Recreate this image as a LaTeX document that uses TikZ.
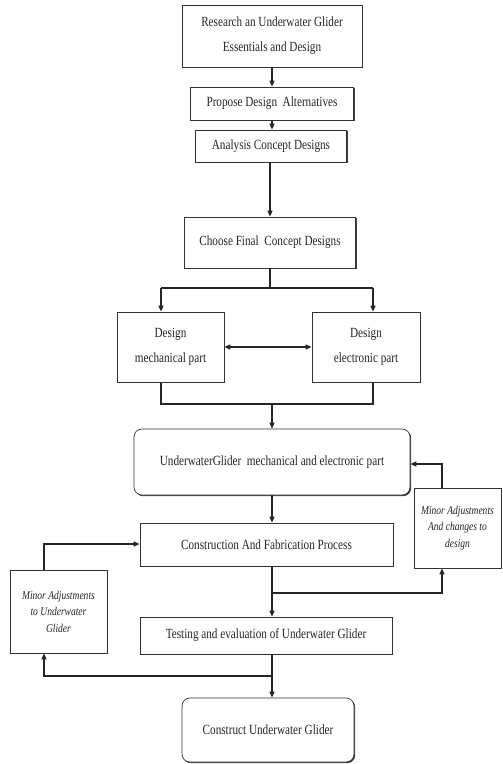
\documentclass[tikz,border=0pt]{standalone}
\usepackage{fontspec}
\setmainfont[FakeStretch=0.8]{Liberation Serif}
\usetikzlibrary{arrows.meta,shadows}
\begin{document}
\begin{tikzpicture}[x=1pt,y=-1pt,
  box/.style={draw=black!80,line width=0.7pt,fill=white,align=center,inner sep=0pt,
    font=\fontsize{14}{25}\selectfont,text=black!85,
    drop shadow={shadow xshift=1.2pt,shadow yshift=-1.2pt,fill=black!75,opacity=1}},
  rbox/.style={box,rounded corners=8pt},
  ibox/.style={box,font=\fontsize{11.9}{16.5}\selectfont\itshape},
  conn/.style={line width=1.3pt,draw=black!85},
  arr/.style={conn,-{Triangle[length=6pt,width=5pt]}},
  darr/.style={conn,{Triangle[length=6pt,width=5pt]}-{Triangle[length=6pt,width=5pt]}}]
\useasboundingbox (0,0) rectangle (503,764);
\node[box,minimum width=180,minimum height=62] (b1) at (272,36) {Research an Underwater Glider\\Essentials and Design};
\node[box,minimum width=163,minimum height=33] (b2) at (272,103.5) {Propose Design\ \ Alternatives};
\node[box,minimum width=151,minimum height=32] (b3) at (271,146) {Analysis Concept Designs};
\node[box,minimum width=171,minimum height=51] (b4) at (270,242.5) {Choose Final\ \ Concept Designs};
\node[box,minimum width=107,minimum height=70] (mech) at (170.5,347) {Design\\mechanical part};
\node[box,minimum width=108,minimum height=70] (elec) at (366,347) {Design\\electronic part};
\node[rbox,minimum width=276,minimum height=66] (ug) at (272,462) {UnderwaterGlider\ \ mechanical and electronic part};
\node[box,minimum width=253,minimum height=43] (con) at (266.5,544.5) {Construction And Fabrication Process};
\node[ibox,minimum width=87,minimum height=80] (minR) at (457.5,528) {Minor Adjustments\\And changes to\\design};
\node[box,minimum width=252,minimum height=37] (test) at (266,635.5) {Testing and evaluation of Underwater Glider};
\node[ibox,minimum width=97,minimum height=83] (minL) at (58.5,611.5) {Minor Adjustments\\to Underwater\\Glider};
\node[rbox,minimum width=172,minimum height=64] (fin) at (268,730) {Construct Underwater Glider};
% coordinates
\coordinate (s1) at (270,288);
\coordinate (sL) at (161,288);
\coordinate (sR) at (373,288);
\coordinate (jL) at (161,404);
\coordinate (jR) at (373,404);
\coordinate (jM) at (272,404);
\coordinate (cR) at (442,593);
\coordinate (rT) at (442,464);
\coordinate (tL) at (44,676);
\coordinate (lT) at (44,544);
% connectors
\draw[arr] (b1.south) -- (b1.south |- b2.north);
\draw[arr] (b2.south) -- (b2.south |- b3.north);
\draw[arr] (b3.south -| b4.north) -- (b4.north);
\draw[conn] (b4.south) -- (s1);
\draw[conn] (sL) -- (sR);
\draw[arr] (sL) -- (sL |- mech.north);
\draw[arr] (sR) -- (sR |- elec.north);
\draw[darr] (mech.east) -- (elec.west);
\draw[conn] (jL |- mech.south) -- (jL) -- (jR) -- (jR |- elec.south);
\draw[arr] (jM) -- (jM |- ug.north);
\draw[arr] (ug.south -| jM) -- (jM |- con.north);
\draw[arr] (con.south -| jM) -- (jM |- test.north);
\draw[arr] (jM |- cR) -- (cR) -- (cR |- minR.south);
\draw[arr] (rT |- minR.north) -- (rT) -- (rT -| ug.east);
\draw[arr] (test.south -| jM) -- (jM |- fin.north);
\draw[arr] (jM |- tL) -- (tL) -- (tL |- minL.south);
\draw[arr] (lT |- minL.north) -- (lT) -- (lT -| con.west);
\end{tikzpicture}
\end{document}
